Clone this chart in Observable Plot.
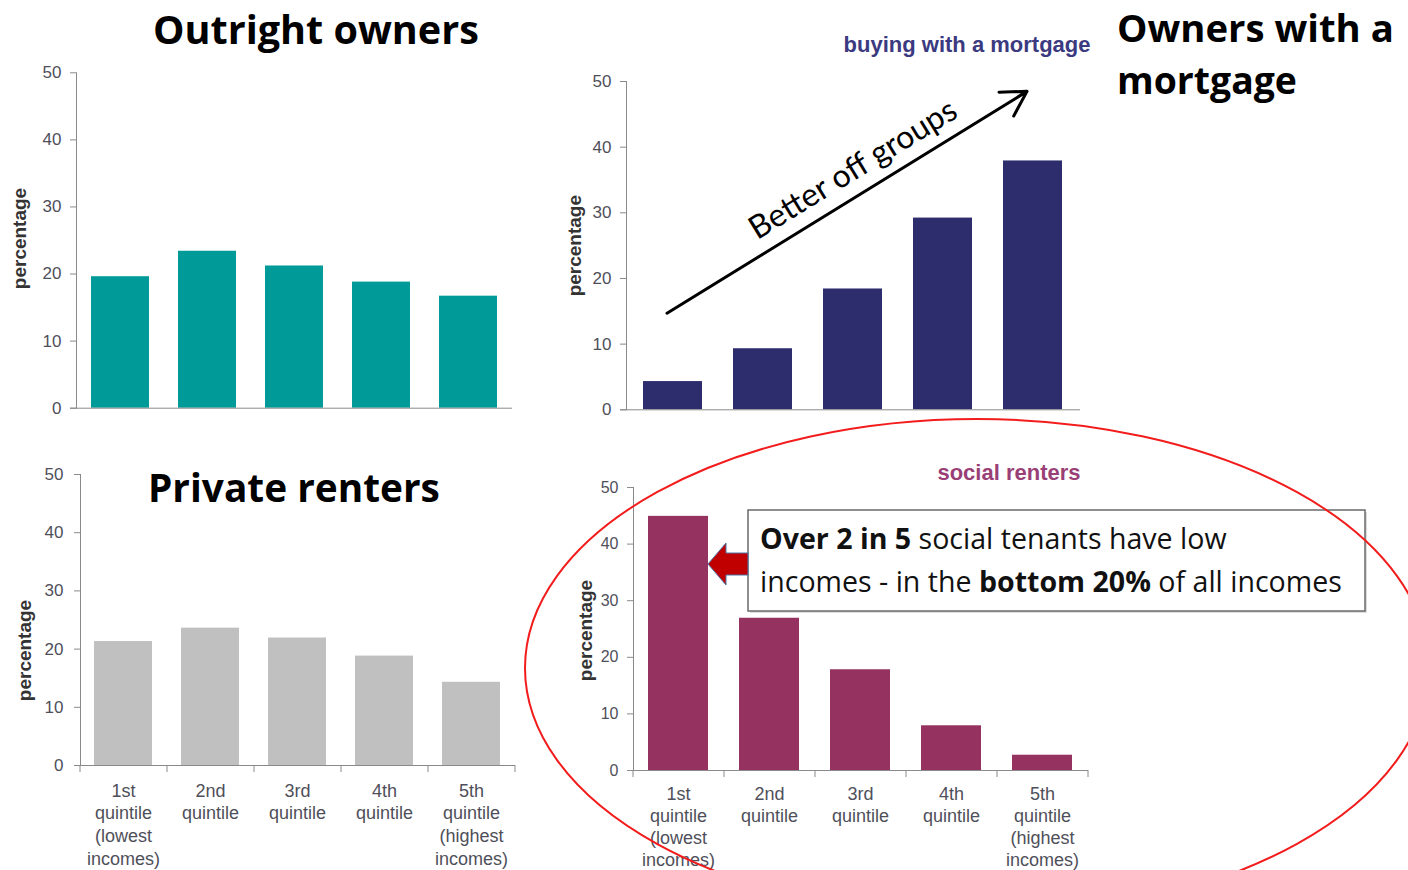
<!DOCTYPE html>
<html><head><meta charset="utf-8">
<script src="https://cdn.jsdelivr.net/npm/d3@7"></script>
<script src="https://cdn.jsdelivr.net/npm/@observablehq/plot@0.6"></script>
<style>
body{margin:0;background:#fff;}
#wrap{position:relative;width:1408px;height:870px;overflow:hidden;background:#fff;}
.panel{position:absolute;}
</style></head><body><div id="wrap"></div>
<script>
// ---- data ----
const quintiles = ["1st", "2nd", "3rd", "4th", "5th"];
const quintileLabels = ["1st\nquintile\n(lowest\nincomes)", "2nd\nquintile", "3rd\nquintile", "4th\nquintile", "5th\nquintile\n(highest\nincomes)"];
const outrightOwners = [19.6, 23.4, 21.2, 18.8, 16.7];
const mortgageBuyers = [4.3, 9.3, 18.4, 29.2, 37.9];
const privateRenters = [21.3, 23.6, 21.9, 18.8, 14.3];
const socialRenters = [44.9, 26.9, 17.8, 7.9, 2.7];
const yTicks = [0, 10, 20, 30, 40, 50];
const trendArrow = [{from: "1st", fromValue: 14.7, to: "5th", toValue: 48.5}];
const trendLabel = [{q: "3rd", v: 36.6, text: "Better off groups"}];

// ---- layout ----
const wrap = document.getElementById("wrap");
const axisColor = "#8a8a8a";
const tickText = "#4f4f5a";
const labelOf = Object.fromEntries(quintiles.map((q, i) => [q, quintileLabels[i]]));

function panel(cfg) {
  const data = quintiles.map((q, i) => ({q, v: cfg.values[i]}));
  const step = (cfg.width - cfg.mL - cfg.mR) / quintiles.length;
  const marks = [
    Plot.barY(data, {x: "q", y: "v", fill: cfg.color}),
    Plot.frame({anchor: "left", stroke: axisColor}),
    Plot.ruleY([0], {stroke: axisColor, insetLeft: -6}),
    Plot.axisY(yTicks, {tickSize: 6, fill: "none", stroke: axisColor, label: null}),
    Plot.axisY(yTicks, {tickSize: 0, tickPadding: cfg.tickPad, fill: tickText, fontSize: cfg.tickFont, label: null}),
    Plot.text(["percentage"], {text: d => d, frameAnchor: "left", textAnchor: "middle", lineAnchor: "middle", rotate: -90, dx: cfg.labelDx, dy: cfg.labelDy, fontWeight: "bold", fontSize: 19, fill: "#333"})
  ];
  if (cfg.xLabels) {
    marks.push(
      Plot.axisX(quintiles, {tickSize: 7, fill: "none", stroke: axisColor, dx: -step / 2, label: null}),
      Plot.axisX([quintiles[quintiles.length - 1]], {tickSize: 7, fill: "none", stroke: axisColor, dx: step / 2, label: null}),
      Plot.axisX(quintiles, {tickSize: 0, tickPadding: cfg.xPad, tickFormat: d => labelOf[d], fontSize: 18, lineHeight: cfg.xLine, fill: tickText, label: null})
    );
  }
  if (cfg.extra) marks.push(...cfg.extra);
  const chart = Plot.plot({
    width: cfg.width, height: cfg.height,
    marginLeft: cfg.mL, marginRight: cfg.mR, marginTop: cfg.mT, marginBottom: cfg.mB,
    x: {domain: quintiles, paddingInner: cfg.pad, paddingOuter: cfg.pad / 2, axis: null, label: null},
    y: {domain: [0, 50], axis: null, label: null},
    style: {fontFamily: "'Liberation Sans', Arial, sans-serif", fontSize: "17px", background: "transparent", overflow: "visible"},
    marks
  });
  const div = document.createElement("div");
  div.className = "panel";
  div.style.left = cfg.left + "px"; div.style.top = cfg.top + "px";
  div.style.width = cfg.width + "px"; div.style.height = cfg.height + "px";
  div.appendChild(chart);
  wrap.appendChild(div);
}

// Outright owners
panel({values: outrightOwners, color: "#009b98", left: 0, top: 0, width: 540, height: 440,
  mL: 76, mR: 28, mT: 72.3, mB: 32.3, pad: 0.335, tickPad: 15, tickFont: 17, labelDx: -57, labelDy: -2});

// Buying with a mortgage
panel({values: mortgageBuyers, color: "#2d2c6c", left: 540, top: 0, width: 560, height: 440,
  mL: 86, mR: 20, mT: 81, mB: 30.7, pad: 0.343, tickPad: 15, tickFont: 17, labelDx: -52, labelDy: 0,
  extra: [
    Plot.text(["buying with a mortgage"], {text: d => d, frameAnchor: "top-right", textAnchor: "end", lineAnchor: "middle", dx: 10, dy: -37, fontWeight: "bold", fontSize: 22, fill: "#3b3a80"}),
    Plot.arrow(trendArrow, {x1: "from", y1: "fromValue", x2: "to", y2: "toValue", dx: -6, stroke: "#000", strokeWidth: 3, headLength: 14}),
    Plot.text(trendLabel, {x: "q", y: "v", text: "text", rotate: -31.5, fontFamily: "Lato", fontSize: 32, fill: "#000"})
  ]});

// Private renters
panel({values: privateRenters, color: "#c0c0c0", left: 0, top: 440, width: 540, height: 430,
  mL: 80, mR: 25, mT: 34, mB: 105, pad: 0.328, tickPad: 17, tickFont: 17, labelDx: -56, labelDy: 30.5,
  xLabels: true, xPad: 15, xLine: 1.26});

// Social renters
panel({values: socialRenters, color: "#963260", left: 540, top: 440, width: 560, height: 430,
  mL: 93, mR: 12, mT: 47, mB: 100, pad: 0.34, tickPad: 15, tickFont: 16, labelDx: -48, labelDy: 1.5,
  xLabels: true, xPad: 14, xLine: 1.22,
  extra: [
    Plot.text(["social renters"], {text: d => d, frameAnchor: "top-right", textAnchor: "end", lineAnchor: "middle", dx: -8, dy: -15, fontWeight: "bold", fontSize: 22, fill: "#9a3f76"})
  ]});

// ---- overlay annotations ----
const ov = d3.select(wrap).append("svg")
  .attr("width", 1408).attr("height", 870)
  .style("position", "absolute").style("left", "0px").style("top", "0px")
  .style("pointer-events", "none");

function addText(x, y, parts, size, target) {
  const t = ov.append("text").attr("x", x).attr("y", y)
    .attr("font-family", "'Open Sans', Lato, sans-serif").attr("font-size", size)
    .attr("fill", "#000").style("white-space", "pre");
  parts.forEach(([s, b]) => t.append("tspan").attr("font-weight", b ? "bold" : "normal").text(s));
  if (target) {
    const w = t.node().getComputedTextLength();
    t.attr("font-size", size * target / w);
  }
  return t;
}

addText(153, 44, [["Outright owners", 1]], 38, 326);
addText(1117, 42, [["Owners with a", 1]], 38, 277);
addText(1117, 94, [["mortgage", 1]], 38, 180);
addText(148, 502, [["Private renters", 1]], 38, 292);

// callout box
ov.append("rect").attr("x", 750).attr("y", 512).attr("width", 617).attr("height", 101).attr("fill", "#bbb").attr("opacity", 0.5);
ov.append("rect").attr("x", 748).attr("y", 510).attr("width", 617).attr("height", 101)
  .attr("fill", "#fff").attr("stroke", "#6a6a6a").attr("stroke-width", 1.5);
const l2 = addText(760, 592, [["incomes - in the ", 0], ["bottom 20%", 1], [" of all incomes", 0]], 28, 582);
const fs = l2.attr("font-size");
addText(760, 549, [["Over 2 in 5", 1], [" social tenants have low", 0]], fs).attr("fill", "#111");
l2.attr("fill", "#111");

// red block arrow
ov.append("polygon")
  .attr("points", "708,564 726,543 726,553 748,553 748,575 726,575 726,585")
  .attr("fill", "#c00000").attr("stroke", "#4a74a6").attr("stroke-width", 1);

// red ellipse
ov.append("ellipse").attr("cx", 977).attr("cy", 668).attr("rx", 452).attr("ry", 249)
  .attr("fill", "none").attr("stroke", "#f21c1c").attr("stroke-width", 2);
</script>
</body></html>
